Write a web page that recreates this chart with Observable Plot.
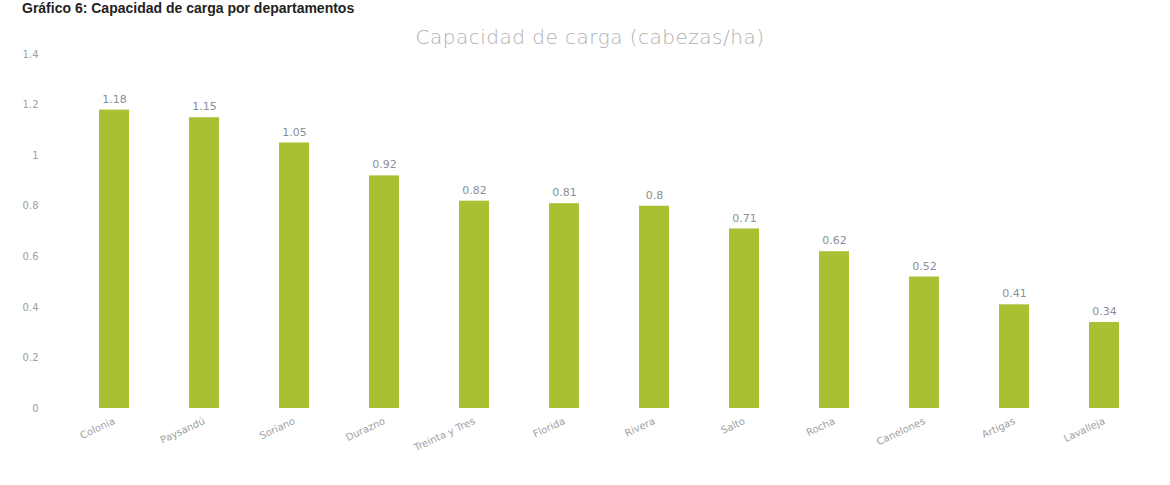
<!DOCTYPE html>
<html>
<head>
<meta charset="utf-8">
<script src="https://cdn.jsdelivr.net/npm/d3@7"></script>
<script src="https://cdn.jsdelivr.net/npm/@observablehq/plot@0.6"></script>
<style>
  html, body { margin: 0; padding: 0; background: #fff; overflow: hidden; }
  #wrap { position: relative; width: 1170px; height: 485px; }
  #title { position: absolute; left: 22px; top: 0px; font-family: "Liberation Sans", Arial, sans-serif; font-weight: bold; font-size: 14px; line-height: 16px; color: #222; white-space: nowrap; }
  #sub { position: absolute; left: 0; width: 1180px; top: 25px; text-align: center; font-family: "DejaVu Sans", sans-serif; font-size: 20px; color: #b0b0b0; font-weight: 300; letter-spacing: 0.5px; }
  #chart { position: absolute; left: 0; top: 0; }
</style>
</head>
<body>
<div id="wrap">
  <div id="chart"></div>
  <div id="title">Gráfico 6: Capacidad de carga por departamentos</div>
  <div id="sub">Capacidad de carga (cabezas/ha)</div>
</div>
<script>
const departamentos = ["Colonia", "Paysandú", "Soriano", "Durazno", "Treinta y Tres", "Florida", "Rivera", "Salto", "Rocha", "Canelones", "Artigas", "Lavalleja"];
const capacidad = [1.18, 1.15, 1.05, 0.92, 0.82, 0.81, 0.8, 0.71, 0.62, 0.52, 0.41, 0.34];
const yTicks = [0, 0.2, 0.4, 0.6, 0.8, 1, 1.2, 1.4];

const data = departamentos.map((d, i) => ({ dep: d, val: capacidad[i] }));

const chart = Plot.plot({
  width: 1170,
  height: 485,
  marginTop: 54,
  marginBottom: 77,
  marginLeft: 68,
  marginRight: 20,
  style: { fontFamily: "DejaVu Sans, sans-serif", background: "transparent" },
  x: { domain: departamentos, paddingInner: 0.67, paddingOuter: 0.335 },
  y: { domain: [0, 1.4] },
  marks: [
    Plot.axisY({ ticks: yTicks, tickSize: 0, tickPadding: 30, tickFormat: d => String(d), fill: "#a0a0a0", fontSize: 10, label: null }),
    Plot.axisX({ tickSize: 0, tickRotate: -25, tickPadding: 12, fill: "#a0a0a0", fontSize: 10, label: null }),
    Plot.barY(data, { x: "dep", y: "val", fill: "#a7c133" }),
    Plot.text(data, { x: "dep", y: "val", text: d => String(d.val), dy: -11, fill: "#8a8f98", fontSize: 11 })
  ]
});
document.getElementById("chart").appendChild(chart);
</script>
</body>
</html>
